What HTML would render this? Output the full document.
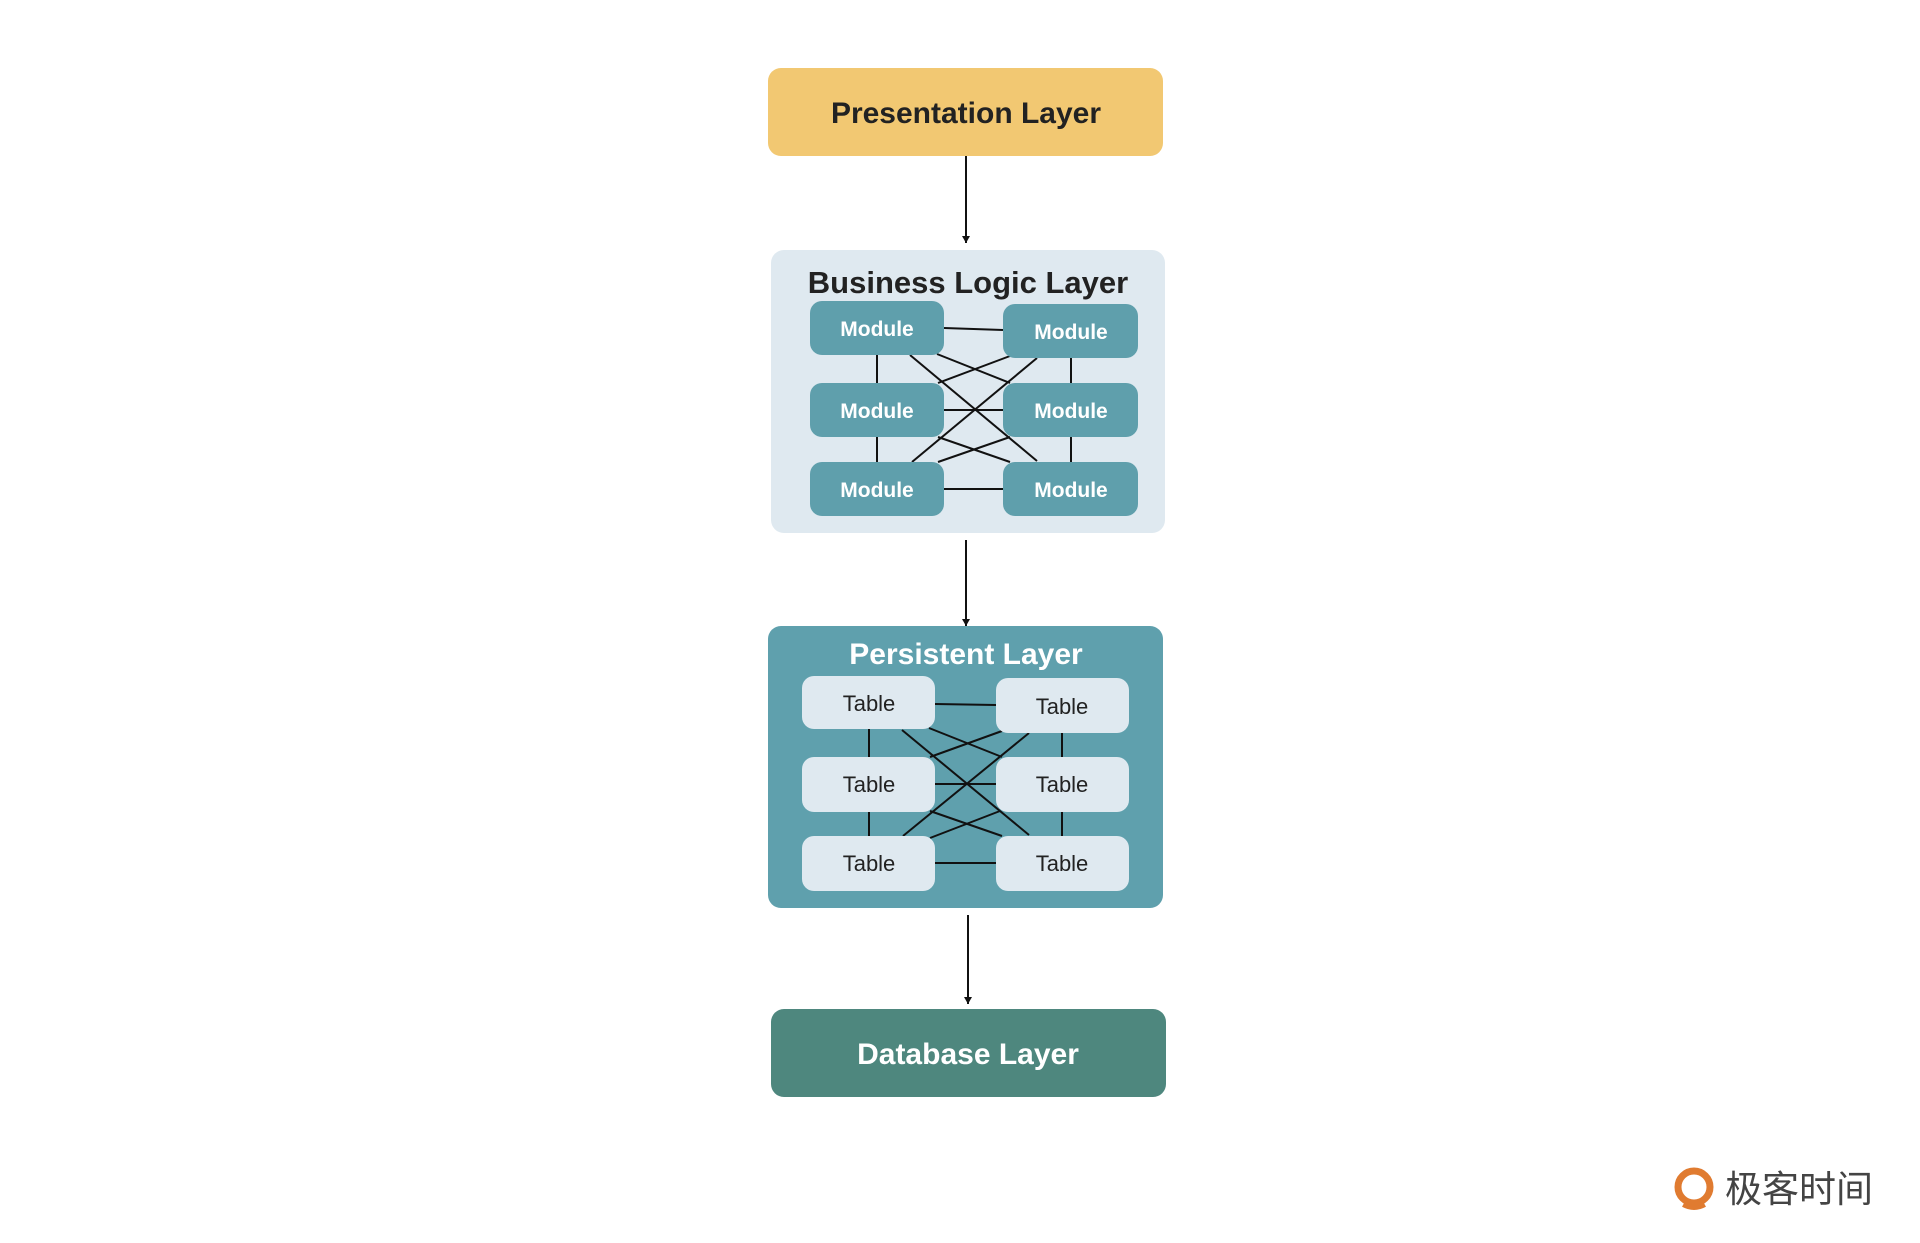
<!DOCTYPE html>
<html><head><meta charset="utf-8"><style>
body{margin:0;width:1920px;height:1243px;background:#fff;overflow:hidden;font-family:"Liberation Sans","Noto Sans CJK SC",sans-serif}
</style></head><body>
<svg width="1920" height="1243" xmlns="http://www.w3.org/2000/svg" style="position:absolute;left:0;top:0">
<defs><marker id="a" markerWidth="8" markerHeight="8" refX="7" refY="4" orient="auto" markerUnits="userSpaceOnUse"><path d="M0,0 L7,4 L0,8z" fill="#111"/></marker></defs>
<g font-family="Liberation Sans, sans-serif" font-weight="bold" text-anchor="middle">
<rect x="768" y="68" width="395" height="88" rx="13" fill="#f2c872"/>
<text x="966" y="123" font-size="30" fill="#222">Presentation Layer</text>
<line x1="966" y1="156" x2="966" y2="243" stroke="#111" stroke-width="2" marker-end="url(#a)"/>
<rect x="771" y="250" width="394" height="283" rx="13" fill="#dfe9f0"/>
<text x="968" y="293" font-size="31" fill="#222">Business Logic Layer</text>
<g stroke="#111" stroke-width="2">
<line x1="944" y1="328" x2="1003" y2="330"/><line x1="944" y1="410" x2="1003" y2="410"/><line x1="944" y1="489" x2="1003" y2="489"/>
<line x1="877" y1="355" x2="877" y2="383"/><line x1="877" y1="437" x2="877" y2="462"/>
<line x1="1071" y1="358" x2="1071" y2="383"/><line x1="1071" y1="437" x2="1071" y2="462"/>
<line x1="910" y1="355" x2="1037" y2="461"/><line x1="1037" y1="358" x2="912" y2="462"/>
<line x1="937" y1="354" x2="1010" y2="383"/><line x1="1010" y1="356" x2="938" y2="383"/>
<line x1="938" y1="437" x2="1010" y2="462"/><line x1="1010" y1="437" x2="938" y2="462"/>
</g>
<g fill="#5f9fac"><rect x="810" y="301" width="134" height="54" rx="12"/><rect x="1003" y="304" width="135" height="54" rx="12"/>
<rect x="810" y="383" width="134" height="54" rx="12"/><rect x="1003" y="383" width="135" height="54" rx="12"/>
<rect x="810" y="462" width="134" height="54" rx="12"/><rect x="1003" y="462" width="135" height="54" rx="12"/></g>
<g fill="#fff" font-size="21"><text x="877" y="336">Module</text><text x="1071" y="339">Module</text>
<text x="877" y="418">Module</text><text x="1071" y="418">Module</text>
<text x="877" y="497">Module</text><text x="1071" y="497">Module</text></g>
<line x1="966" y1="540" x2="966" y2="626" stroke="#111" stroke-width="2" marker-end="url(#a)"/>
<rect x="768" y="626" width="395" height="282" rx="13" fill="#5fa0ad"/>
<text x="966" y="664" font-size="30" fill="#fff">Persistent Layer</text>
<g stroke="#111" stroke-width="2">
<line x1="935" y1="704" x2="996" y2="705"/><line x1="935" y1="784" x2="996" y2="784"/><line x1="935" y1="863" x2="996" y2="863"/>
<line x1="869" y1="729" x2="869" y2="757"/><line x1="869" y1="812" x2="869" y2="836"/>
<line x1="1062" y1="733" x2="1062" y2="757"/><line x1="1062" y1="812" x2="1062" y2="836"/>
<line x1="902" y1="730" x2="1029" y2="835"/><line x1="1029" y1="733" x2="903" y2="836"/>
<line x1="929" y1="728" x2="1002" y2="757"/><line x1="1002" y1="731" x2="930" y2="757"/>
<line x1="930" y1="811" x2="1002" y2="836"/><line x1="1000" y1="811" x2="930" y2="838"/>
</g>
<g fill="#dfe9f0"><rect x="802" y="676" width="133" height="53" rx="12"/><rect x="996" y="678" width="133" height="55" rx="12"/>
<rect x="802" y="757" width="133" height="55" rx="12"/><rect x="996" y="757" width="133" height="55" rx="12"/>
<rect x="802" y="836" width="133" height="55" rx="12"/><rect x="996" y="836" width="133" height="55" rx="12"/></g>
<g fill="#222" font-size="22" font-weight="normal"><text x="869" y="711">Table</text><text x="1062" y="714">Table</text>
<text x="869" y="792">Table</text><text x="1062" y="792">Table</text>
<text x="869" y="871">Table</text><text x="1062" y="871">Table</text></g>
<line x1="968" y1="915" x2="968" y2="1004" stroke="#111" stroke-width="2" marker-end="url(#a)"/>
<rect x="771" y="1009" width="395" height="88" rx="13" fill="#4e877e"/>
<text x="968" y="1064" font-size="30" fill="#fff">Database Layer</text>
</g>
<circle cx="1694" cy="1187" r="16" fill="none" stroke="#e07b30" stroke-width="7"/>
<path d="M1683,1205 Q1694,1211 1705,1205" stroke="#e07b30" stroke-width="4" fill="none"/>
<text x="1725" y="1202" font-family="Noto Sans CJK SC, sans-serif" font-size="37" fill="#444">极客时间</text>
</svg>
</body></html>
